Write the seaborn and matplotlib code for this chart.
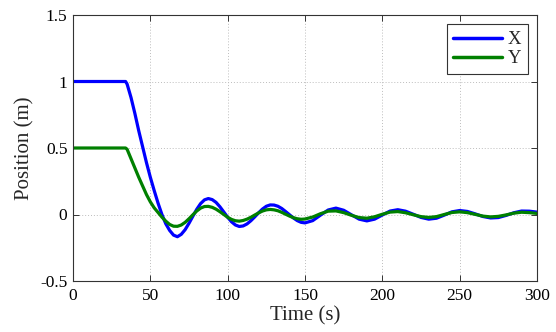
import matplotlib
matplotlib.use("Agg")
import matplotlib.pyplot as plt
import seaborn as sns
import pandas as pd
from matplotlib.lines import Line2D

# Time samples (s)
time_s = [0, 34, 35, 37.5, 40, 42.5, 45, 47.5, 50, 52.5, 55, 57.5, 60, 62.5, 65, 67.5,
          70, 72.5, 75, 77.5, 80, 82.5, 85, 87.5, 90, 92.5, 95, 97.5, 100, 102.5, 105,
          107.5, 110, 112.5, 115, 117.5, 120, 122.5, 125, 127.5, 130, 132.5, 135, 137.5,
          140, 142.5, 145, 147.5, 150, 155, 160, 165, 170, 175, 180, 185, 190, 195, 200,
          205, 210, 215, 220, 225, 230, 235, 240, 245, 250, 255, 260, 265, 270, 275, 280,
          285, 290, 295, 300]

# X position (m)
x_pos = [1.0, 1.0, 0.98, 0.88, 0.76, 0.63, 0.51, 0.39, 0.28, 0.18, 0.085, 0.0, -0.07,
         -0.12, -0.155, -0.167, -0.149, -0.114, -0.066, -0.013, 0.039, 0.082, 0.110,
         0.120, 0.112, 0.091, 0.058, 0.019, -0.021, -0.055, -0.079, -0.090, -0.086,
         -0.071, -0.047, -0.018, 0.013, 0.041, 0.062, 0.072, 0.071, 0.062, 0.045, 0.022,
         -0.002, -0.026, -0.046, -0.059, -0.063, -0.046, -0.005, 0.034, 0.048, 0.032,
         -0.002, -0.035, -0.048, -0.035, -0.004, 0.026, 0.036, 0.025, 0.002, -0.022,
         -0.035, -0.028, -0.005, 0.020, 0.030, 0.023, 0.005, -0.015, -0.026, -0.023,
         -0.007, 0.013, 0.026, 0.025, 0.018]

# Y position (m)
y_pos = [0.5, 0.5, 0.49, 0.42, 0.35, 0.28, 0.215, 0.15, 0.095, 0.05, 0.015, -0.02, -0.05,
         -0.075, -0.088, -0.089, -0.079, -0.059, -0.032, -0.002, 0.026, 0.048, 0.060,
         0.061, 0.054, 0.040, 0.021, 0.000, -0.021, -0.037, -0.047, -0.050, -0.045,
         -0.035, -0.021, -0.004, 0.012, 0.026, 0.035, 0.038, 0.035, 0.028, 0.016, 0.002,
         -0.012, -0.024, -0.032, -0.036, -0.034, -0.019, 0.006, 0.025, 0.027, 0.014,
         -0.006, -0.023, -0.028, -0.017, 0.002, 0.018, 0.022, 0.013, -0.002, -0.016,
         -0.022, -0.016, 0.000, 0.015, 0.020, 0.014, 0.001, -0.012, -0.018, -0.014,
         -0.003, 0.010, 0.017, 0.014, 0.008]

series_names = ["X", "Y"]
series_colors = ["#0000FF", "#008000"]
x_ticks = [0, 50, 100, 150, 200, 250, 300]
y_ticks = [-0.5, 0, 0.5, 1, 1.5]
y_tick_labels = ["-0.5", "0", "0.5", "1", "1.5"]

df = pd.DataFrame({
    "Time": time_s * 2,
    "Position": x_pos + y_pos,
    "Series": [series_names[0]] * len(time_s) + [series_names[1]] * len(time_s),
})

sns.set_theme(style="ticks")
plt.rcParams["font.family"] = ["Liberation Serif", "DejaVu Serif"]
plt.rcParams["axes.unicode_minus"] = False

fig = plt.figure(figsize=(5.56, 3.32), dpi=100)
ax = fig.add_axes([73 / 556, 1 - 281 / 332, (537 - 73) / 556, (281 - 15) / 332])

sns.lineplot(data=df, x="Time", y="Position", hue="Series",
             palette=dict(zip(series_names, series_colors)),
             linewidth=2.3, ax=ax, legend=False, sort=False)

ax.set_xlim(0, 300)
ax.set_ylim(-0.5, 1.5)
ax.set_xticks(x_ticks)
ax.set_xticklabels([str(t) for t in x_ticks])
ax.set_yticks(y_ticks)
ax.set_yticklabels(y_tick_labels)
ax.grid(True, linestyle=(0, (1, 2)), color="#bdbdbd", linewidth=0.7)
ax.tick_params(direction="in", top=True, right=True, length=4, width=0.7,
               labelsize=12.5, colors="#333333", labelcolor="black")
ax.tick_params(axis="x", pad=5)
ax.tick_params(axis="y", pad=4)
for sp in ax.spines.values():
    sp.set_visible(True)
    sp.set_color("#333333")
    sp.set_linewidth(0.8)

ax.set_xlabel("Time (s)", fontsize=15, labelpad=2)
ax.set_ylabel("Position (m)", fontsize=15, labelpad=4)

handles = [Line2D([], [], color=c, linewidth=2.5) for c in series_colors]
leg = ax.legend(handles, series_names, loc="upper right", fontsize=13.5,
                frameon=True, fancybox=False, handlelength=2.6,
                borderaxespad=0.5, handletextpad=0.3, labelspacing=0.1,
                borderpad=0.35)
leg.get_frame().set_edgecolor("#333333")
leg.get_frame().set_linewidth(0.8)
leg.get_frame().set_alpha(1)

fig.savefig("out.png", dpi=100)
